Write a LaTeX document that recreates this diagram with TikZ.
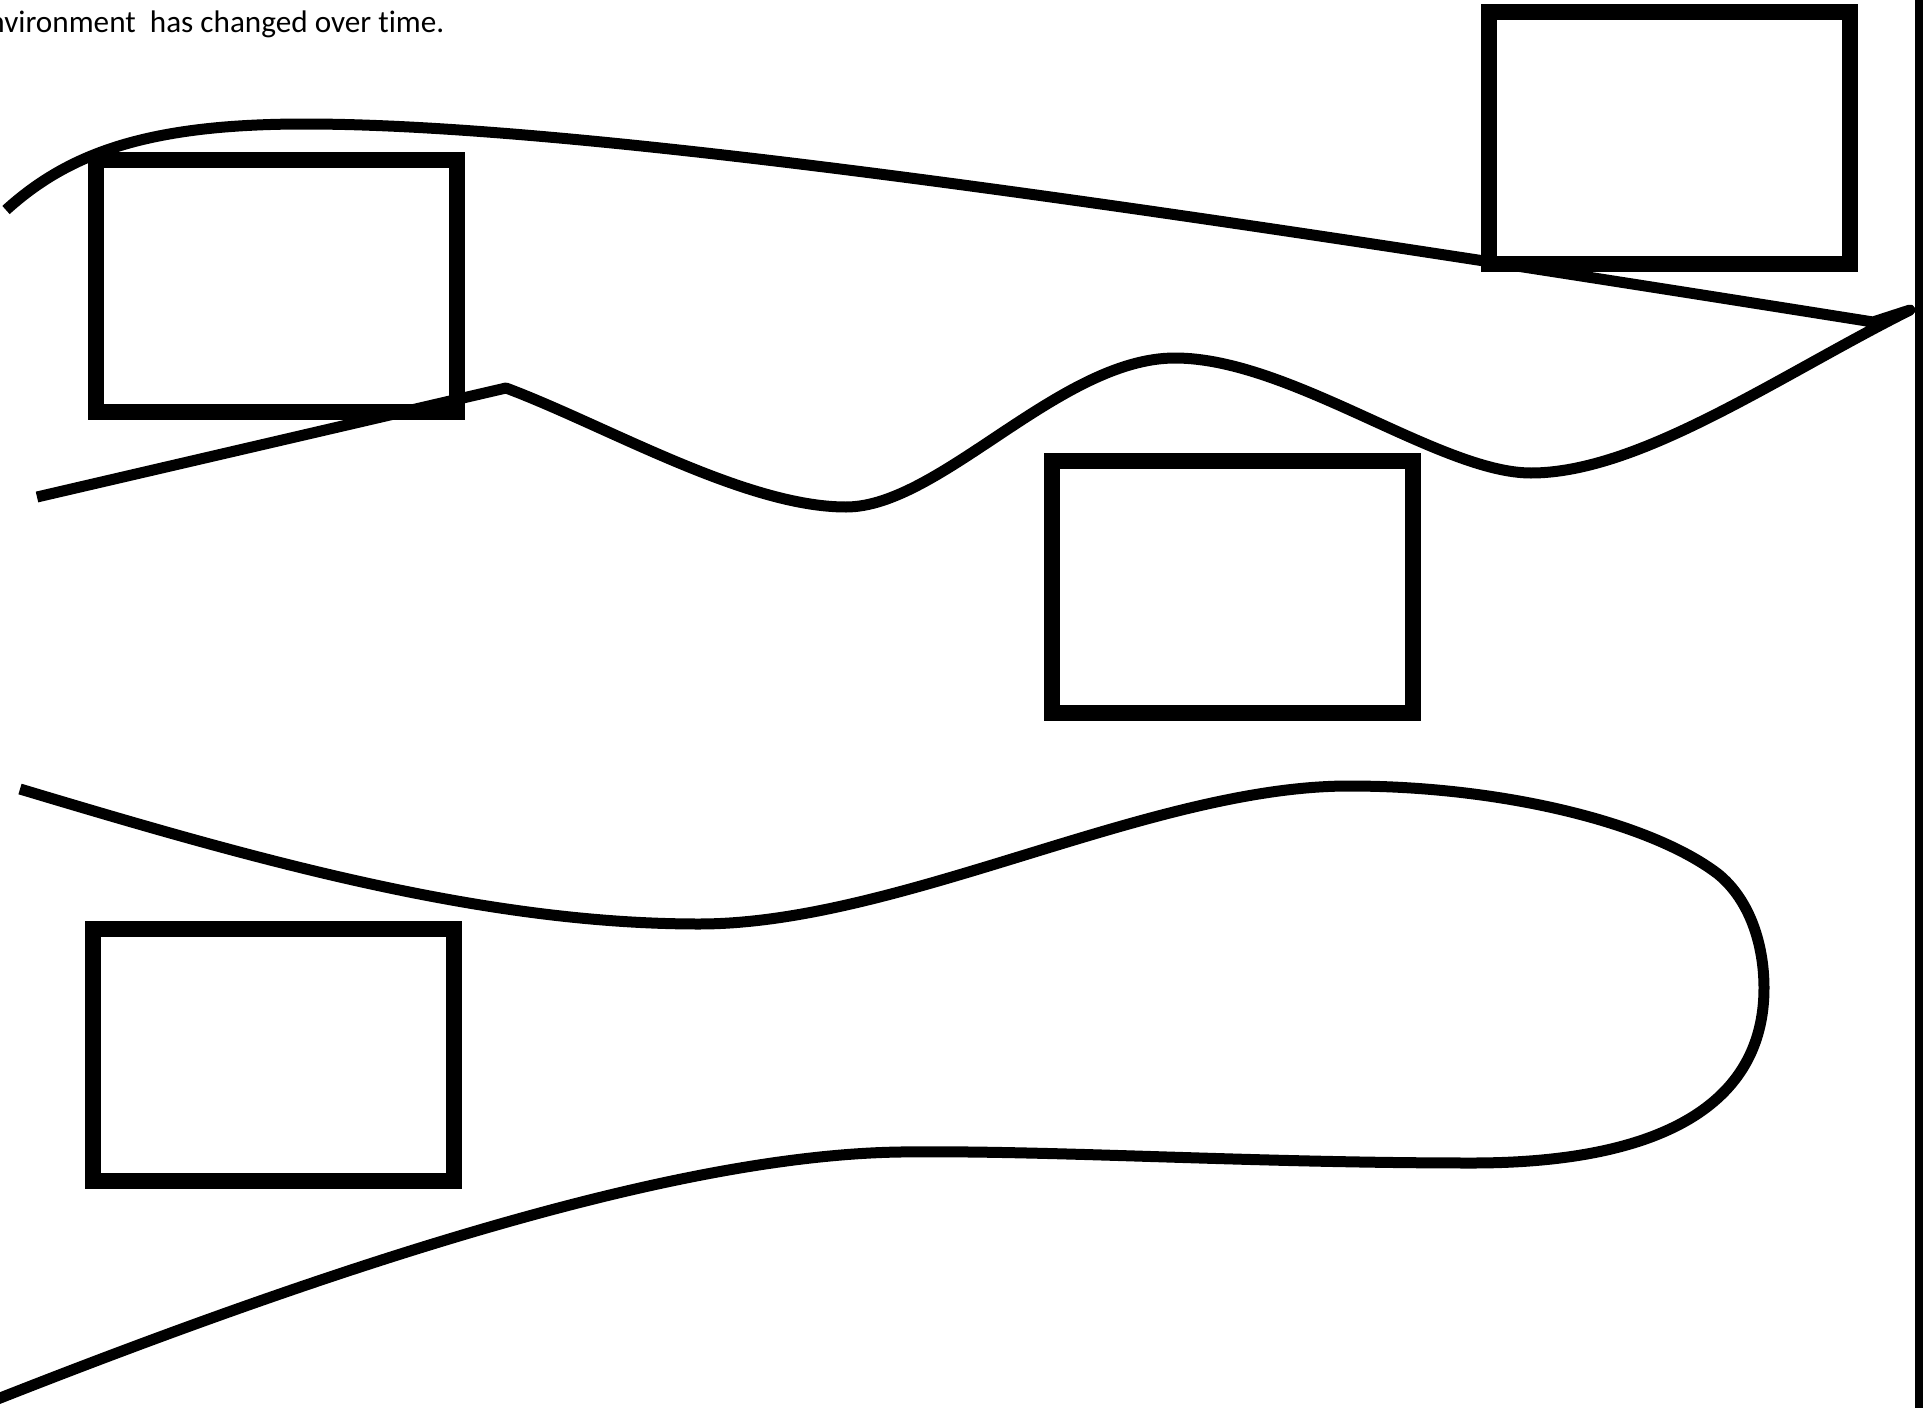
\documentclass[tikz,border=0pt]{standalone}
\usepackage{fontspec}
\setmainfont{Carlito}[Ligatures=NoCommon]
\begin{document}
\begin{tikzpicture}[x=1pt,y=-1pt,
  panel/.style={draw, line width=16pt, minimum width=361pt, minimum height=252pt, inner sep=0pt},
  curve/.style={line width=11pt, line join=round}]
\clip (0,0) rectangle (1923,1408);
\node[anchor=base east, inner sep=0pt, font=\fontsize{31.2}{38}\selectfont] (caption) at (444.5,32) {environment~ has changed over time.};
% boxes
\node[panel] (boxA) at (276,285.5) {};
\node[panel] (boxB) at (1669.4,138.3) {};
\node[panel] (boxC) at (1232.8,586.7) {};
\node[panel] (boxD) at (273.5,1054.5) {};
% upper freeform
\draw[curve] (6,210) .. controls (70,152) and (150,124) .. (305,124)
  .. controls (600,124) and (1200,215) .. (1873,322)
  -- (1910,310)
  .. controls (1780,375) and (1640,473) .. (1531,473)
  .. controls (1440,473) and (1290,358) .. (1175,358)
  .. controls (1060,358) and (940,507) .. (846,507)
  .. controls (745,507) and (605,425) .. (506,388)
  -- (37,497);
% lower freeform
\draw[curve] (20,789) .. controls (250,858) and (480,924) .. (699,924)
  .. controls (900,924) and (1150,786) .. (1349,786)
  .. controls (1500,786) and (1650,822) .. (1718,874)
  .. controls (1750,900) and (1764,945) .. (1764,988)
  .. controls (1764,1105) and (1660,1163) .. (1472,1163)
  .. controls (1250,1163) and (1050,1150) .. (900,1152)
  .. controls (700,1155) and (400,1240) .. (-10,1402);
% right edge bar
\fill (1915,0) rectangle (1923,1408);
\end{tikzpicture}
\end{document}
